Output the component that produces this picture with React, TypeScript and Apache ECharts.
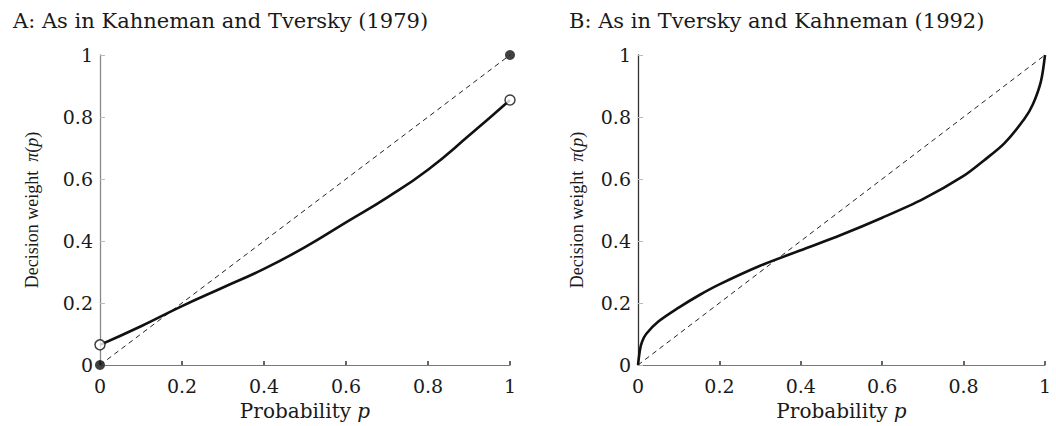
import React, { useEffect, useRef } from "react";
import * as echarts from "echarts";

const TICKS = [0, 0.2, 0.4, 0.6, 0.8, 1];

// Panel A: Kahneman & Tversky (1979)
const probA = [0, 0.1, 0.2, 0.3, 0.4, 0.5, 0.6, 0.7, 0.8, 0.9, 1];
const weightA = [0.065, 0.125, 0.19, 0.25, 0.31, 0.38, 0.46, 0.54, 0.63, 0.74, 0.855];
const openDotsA = [[0, 0.065], [1, 0.855]];
const filledDotsA = [[0, 0], [1, 1]];

// Panel B: Tversky & Kahneman (1992)
const probB = [0, 0.005, 0.01, 0.02, 0.05, 0.1, 0.15, 0.2, 0.3, 0.4, 0.5, 0.6, 0.7, 0.8, 0.85, 0.9, 0.95, 0.97, 0.99, 1];
const weightB = [0, 0.05, 0.075, 0.1, 0.14, 0.185, 0.225, 0.26, 0.32, 0.37, 0.42, 0.475, 0.535, 0.61, 0.66, 0.715, 0.795, 0.84, 0.915, 1];

const diagonal = [[0, 0], [1, 1]];

const titles = ["A: As in Kahneman and Tversky (1979)", "B: As in Tversky and Kahneman (1992)"];

const WIDE = "'DejaVu Serif', serif";
const NARROW = "'Liberation Serif', serif";
const TXT = "#1a1a1a";

function zip(xs: number[], ys: number[]) {
  return xs.map((x, i) => [x, ys[i]]);
}

export default function App() {
  const ref = useRef<HTMLDivElement>(null);
  useEffect(() => {
    document.body.style.margin = "0";
    if (!ref.current) return;
    const chart = echarts.init(ref.current, undefined, { renderer: "svg" });
    const richWide = {
      i: { fontFamily: WIDE, fontStyle: "italic", fontSize: 20, color: TXT },
    };
    const richNarrow = {
      i: { fontFamily: NARROW, fontStyle: "italic", fontSize: 18, color: TXT },
    };
    const xAxisCommon = (gridIndex: number) => ({
      type: "value",
      gridIndex,
      min: 0,
      max: 1,
      interval: 0.2,
      splitLine: { show: false },
      axisLine: { lineStyle: { color: "#777", width: 1.2 } },
      axisTick: { inside: true, length: 4, lineStyle: { color: "#333", width: 1.5 } },
      axisLabel: { margin: 11, fontFamily: WIDE, fontSize: 19, color: TXT },
      name: "Probability {i|p}",
      nameLocation: "middle",
      nameGap: 36,
      nameTextStyle: { fontFamily: WIDE, fontSize: 20, color: TXT, rich: richWide },
    });
    const yAxisCommon = (gridIndex: number, gap: number, lineColor: string) => ({
      type: "value",
      gridIndex,
      min: 0,
      max: 1,
      interval: 0.2,
      splitLine: { show: false },
      axisLine: { lineStyle: { color: lineColor, width: 1.3 } },
      axisTick: { inside: true, length: 5, lineStyle: { color: "#bbb", width: 1 } },
      axisLabel: { margin: 7, fontFamily: WIDE, fontSize: 19, color: TXT },
      name: "Decision weight  {i|π}({i|p})",
      nameLocation: "middle",
      nameGap: gap,
      nameRotate: 90,
      nameTextStyle: { fontFamily: NARROW, fontSize: 18, color: TXT, rich: richNarrow },
    });
    const dashed = (idx: number) => ({
      type: "line",
      xAxisIndex: idx,
      yAxisIndex: idx,
      data: diagonal,
      symbol: "none",
      lineStyle: { color: "#222", width: 1, type: [5, 4] },
      z: 2,
    });
    const titleStyle = { fontFamily: WIDE, fontSize: 21, fontWeight: "normal", color: TXT };
    chart.setOption({
      animation: false,
      backgroundColor: "#fff",
      title: [
        { text: titles[0], left: 8, top: 5, textStyle: titleStyle },
        { text: titles[1], left: 564, top: 5, textStyle: titleStyle },
      ],
      grid: [
        { left: 100, top: 55, width: 410, height: 312 },
        { left: 638, top: 55, width: 407, height: 312 },
      ],
      xAxis: [xAxisCommon(0), xAxisCommon(1)],
      yAxis: [yAxisCommon(0, 59, "#888"), yAxisCommon(1, 52, "#333")],
      series: [
        dashed(0),
        {
          type: "line",
          xAxisIndex: 0,
          yAxisIndex: 0,
          data: zip(probA, weightA),
          smooth: 0.5,
          symbol: "none",
          lineStyle: { color: "#111", width: 2.6 },
          z: 3,
        },
        {
          type: "scatter",
          xAxisIndex: 0,
          yAxisIndex: 0,
          data: openDotsA,
          symbol: "circle",
          symbolSize: 10,
          itemStyle: { color: "#fff", borderColor: "#111", borderWidth: 1.5 },
          z: 5,
        },
        {
          type: "scatter",
          xAxisIndex: 0,
          yAxisIndex: 0,
          data: filledDotsA,
          symbol: "circle",
          symbolSize: 10,
          itemStyle: { color: "#111" },
          z: 5,
        },
        dashed(1),
        {
          type: "line",
          xAxisIndex: 1,
          yAxisIndex: 1,
          data: zip(probB, weightB),
          smooth: 0.3,
          symbol: "none",
          lineStyle: { color: "#111", width: 2.6 },
          z: 3,
        },
      ],
    });
    return () => chart.dispose();
  }, []);
  return <div ref={ref} style={{ width: 1056, height: 426 }} />;
}
